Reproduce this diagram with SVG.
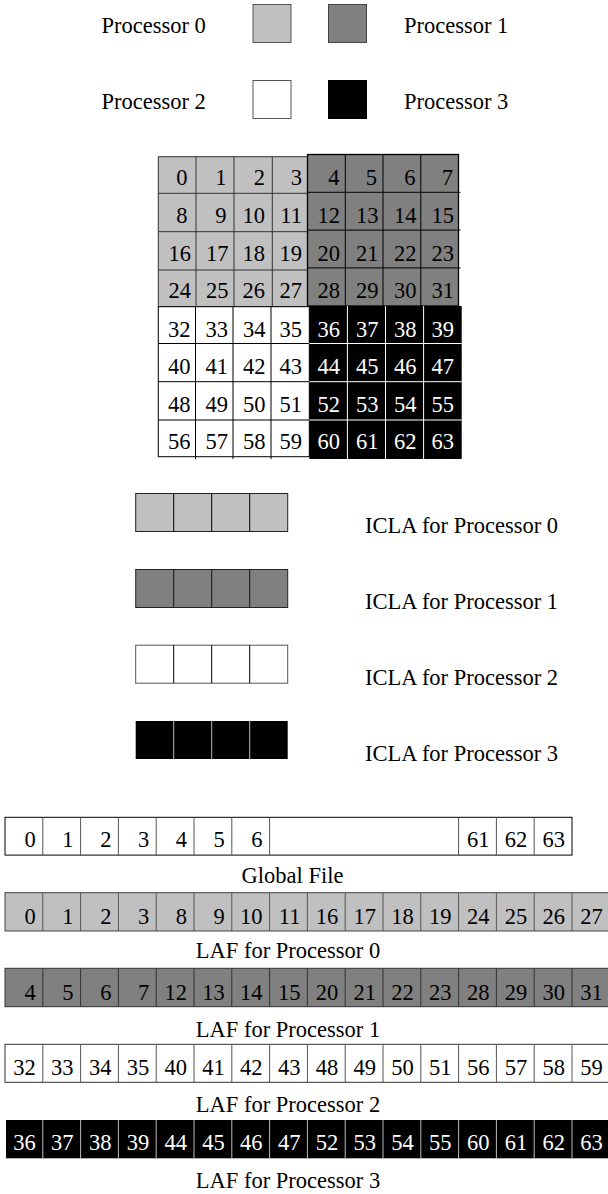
<svg xmlns="http://www.w3.org/2000/svg" width="608" height="1194" viewBox="0 0 608 1194" font-family="'Liberation Serif', 'Tinos', 'Nimbus Roman', 'DejaVu Serif', serif">
<style>
text{font-family:"Liberation Serif","Tinos","Nimbus Roman","Nimbus Roman No9 L","DejaVu Serif",serif;font-size:22.5px;fill:#000}
.n text{text-anchor:end}
.w text,text.w{fill:#fff}
.lg{fill:#c0c0c0}
.dg{fill:#808080}
.wh{fill:#fff}
.bk{fill:#000}
.ln{stroke:#333;stroke-width:1}
.lnw{stroke:#fff;stroke-width:1}
.lng{stroke:#555;stroke-width:1}
.lnl{stroke:#bbb;stroke-width:1}
.n text.c{text-anchor:middle}
</style>
<rect width="608" height="1194" fill="#fff"/>
<g id="legend">
<g id="legend-p0"><text x="101.5" y="33.3">Processor 0</text><rect x="253" y="4.5" width="38" height="38" class="lg" stroke="#555"/></g>
<g id="legend-p1"><rect x="328.5" y="4.5" width="38" height="38" class="dg" stroke="#444"/><text x="404" y="33.3">Processor 1</text></g>
<g id="legend-p2"><text x="101.5" y="109.3">Processor 2</text><rect x="253" y="80.5" width="38" height="38" class="wh" stroke="#555"/></g>
<g id="legend-p3"><rect x="328.5" y="80.5" width="38" height="38" class="bk" stroke="#000"/><text x="404" y="109.3">Processor 3</text></g>
</g>
<g id="grid">
<g id="grid-p0" class="n">
<rect x="158.3" y="156.7" width="151" height="150" class="lg" stroke="#333"/>
<path class="ln" d="M196 156.7V306.7M234 156.7V306.7M272.3 156.7V306.7M158.3 193.3H309M158.3 231.7H309M158.3 270H309"/>
<text x="187.5" y="185">0</text><text x="226.5" y="185">1</text><text x="265" y="185">2</text><text x="302" y="185">3</text>
<text x="187.5" y="222.7">8</text><text x="226.5" y="222.7">9</text><text x="265" y="222.7">10</text><text x="302" y="222.7">11</text>
<text x="191" y="261">16</text><text x="228.5" y="261">17</text><text x="265" y="261">18</text><text x="302" y="261">19</text>
<text x="191" y="298.3">24</text><text x="228.5" y="298.3">25</text><text x="265" y="298.3">26</text><text x="302" y="298.3">27</text>
</g>
<g id="grid-p1" class="n">
<rect x="307.5" y="154.5" width="151" height="151.5" class="dg" stroke="#000" stroke-width="1.3"/>
<path stroke="#000" stroke-width="1" d="M345.3 154.5V306M383 154.5V306M420.8 154.5V306M307.5 192.3H460.5M307.5 230.1H460.5M307.5 267.9H460.5"/>
<text x="339.5" y="185">4</text><text x="377" y="185">5</text><text x="415.5" y="185">6</text><text x="453" y="185">7</text>
<text x="340" y="222.7">12</text><text x="378.5" y="222.7">13</text><text x="416.5" y="222.7">14</text><text x="454" y="222.7">15</text>
<text x="340" y="261">20</text><text x="378.5" y="261">21</text><text x="416.5" y="261">22</text><text x="454" y="261">23</text>
<text x="340" y="298.3">28</text><text x="378.5" y="298.3">29</text><text x="416.5" y="298.3">30</text><text x="454" y="298.3">31</text>
</g>
<g id="grid-p2" class="n">
<rect x="158.3" y="306.7" width="151" height="150" class="wh" stroke="#000"/>
<path stroke="#000" stroke-width="1" d="M195.5 306.7V459M233 306.7V459M271 306.7V459M158.3 343.5H309.3M158.3 381.7H309.3M158.3 420H309.3"/>
<text x="190.5" y="336.7">32</text><text x="228" y="336.7">33</text><text x="265.5" y="336.7">34</text><text x="302" y="336.7">35</text>
<text x="190.5" y="374">40</text><text x="228" y="374">41</text><text x="265.5" y="374">42</text><text x="302" y="374">43</text>
<text x="190.5" y="411.7">48</text><text x="228" y="411.7">49</text><text x="265.5" y="411.7">50</text><text x="302" y="411.7">51</text>
<text x="190.5" y="449.3">56</text><text x="228" y="449.3">57</text><text x="265.5" y="449.3">58</text><text x="302" y="449.3">59</text>
</g>
<g id="grid-p3" class="n w">
<rect x="309.3" y="306" width="152.4" height="153" class="bk"/>
<path class="lnw" d="M347.4 306V459M385.5 306V459M423.6 306V459M309.3 343.5H461.7M309.3 381.7H461.7M309.3 420H461.7"/>
<text x="340" y="336.7">36</text><text x="378.5" y="336.7">37</text><text x="416.5" y="336.7">38</text><text x="454" y="336.7">39</text>
<text x="340" y="374">44</text><text x="378.5" y="374">45</text><text x="416.5" y="374">46</text><text x="454" y="374">47</text>
<text x="340" y="411.7">52</text><text x="378.5" y="411.7">53</text><text x="416.5" y="411.7">54</text><text x="454" y="411.7">55</text>
<text x="340" y="449.3">60</text><text x="378.5" y="449.3">61</text><text x="416.5" y="449.3">62</text><text x="454" y="449.3">63</text>
</g>
</g>
<g id="icla">
<g id="icla-p0"><rect x="135.7" y="493.5" width="152" height="38" class="lg" stroke="#222"/><path stroke="#000" d="M173.7 493.5V531.5M211.7 493.5V531.5M249.7 493.5V531.5"/><text x="365" y="533.3">ICLA for Processor 0</text></g>
<g id="icla-p1"><rect x="135.7" y="569.5" width="152" height="38" class="dg" stroke="#222"/><path stroke="#111" d="M173.7 569.5V607.5M211.7 569.5V607.5M249.7 569.5V607.5"/><text x="365" y="609">ICLA for Processor 1</text></g>
<g id="icla-p2"><rect x="135.7" y="645.2" width="152" height="38" class="wh" stroke="#555"/><path stroke="#000" d="M173.7 645.2V683.2M211.7 645.2V683.2M249.7 645.2V683.2"/><text x="365" y="685">ICLA for Processor 2</text></g>
<g id="icla-p3"><rect x="135.7" y="721" width="152" height="38" class="bk"/><path class="lnl" d="M173.7 721V759M211.7 721V759M249.7 721V759"/><text x="365" y="760.7">ICLA for Processor 3</text></g>
</g>
<g id="global-file" class="n">
<rect x="5" y="817.3" width="567" height="37.8" class="wh" stroke="#000"/>
<path class="lng" d="M42.8 817.3V855.1M80.6 817.3V855.1M118.4 817.3V855.1M156.2 817.3V855.1M194 817.3V855.1M231.8 817.3V855.1M269.6 817.3V855.1M458.6 817.3V855.1M496.4 817.3V855.1M534.2 817.3V855.1"/>
<text x="35.8" y="847">0</text><text x="73.6" y="847">1</text><text x="111.4" y="847">2</text><text x="149.2" y="847">3</text><text x="187" y="847">4</text><text x="224.8" y="847">5</text><text x="262.6" y="847">6</text>
<text x="489.4" y="847">61</text><text x="527.2" y="847">62</text><text x="565" y="847">63</text>
<text class="c" x="292.5" y="883.3">Global File</text>
</g>
<g id="laf-p0" class="n">
<rect x="5" y="892.7" width="610" height="38.3" class="lg" stroke="#444"/>
<path class="lng" d="M42.8 892.7V931M80.6 892.7V931M118.4 892.7V931M156.2 892.7V931M194 892.7V931M231.8 892.7V931M269.6 892.7V931M307.4 892.7V931M345.2 892.7V931M383 892.7V931M420.8 892.7V931M458.6 892.7V931M496.4 892.7V931M534.2 892.7V931M572 892.7V931"/>
<text x="35.8" y="924">0</text><text x="73.6" y="924">1</text><text x="111.4" y="924">2</text><text x="149.2" y="924">3</text><text x="187" y="924">8</text><text x="224.8" y="924">9</text><text x="262.6" y="924">10</text><text x="300.4" y="924">11</text><text x="338.2" y="924">16</text><text x="376" y="924">17</text><text x="413.8" y="924">18</text><text x="451.6" y="924">19</text><text x="489.4" y="924">24</text><text x="527.2" y="924">25</text><text x="565" y="924">26</text><text x="602.8" y="924">27</text>
<text class="c" x="288" y="958.3">LAF for Processor 0</text>
</g>
<g id="laf-p1" class="n">
<rect x="5" y="968.3" width="610" height="38.4" class="dg" stroke="#333"/>
<path class="ln" d="M42.8 968.3V1006.7M80.6 968.3V1006.7M118.4 968.3V1006.7M156.2 968.3V1006.7M194 968.3V1006.7M231.8 968.3V1006.7M269.6 968.3V1006.7M307.4 968.3V1006.7M345.2 968.3V1006.7M383 968.3V1006.7M420.8 968.3V1006.7M458.6 968.3V1006.7M496.4 968.3V1006.7M534.2 968.3V1006.7M572 968.3V1006.7"/>
<text x="35.8" y="999.5">4</text><text x="73.6" y="999.5">5</text><text x="111.4" y="999.5">6</text><text x="149.2" y="999.5">7</text><text x="187" y="999.5">12</text><text x="224.8" y="999.5">13</text><text x="262.6" y="999.5">14</text><text x="300.4" y="999.5">15</text><text x="338.2" y="999.5">20</text><text x="376" y="999.5">21</text><text x="413.8" y="999.5">22</text><text x="451.6" y="999.5">23</text><text x="489.4" y="999.5">28</text><text x="527.2" y="999.5">29</text><text x="565" y="999.5">30</text><text x="602.8" y="999.5">31</text>
<text class="c" x="288" y="1036.7">LAF for Processor 1</text>
</g>
<g id="laf-p2" class="n">
<rect x="5" y="1044.3" width="610" height="38" class="wh" stroke="#333"/>
<path class="lng" d="M42.8 1044.3V1082.3M80.6 1044.3V1082.3M118.4 1044.3V1082.3M156.2 1044.3V1082.3M194 1044.3V1082.3M231.8 1044.3V1082.3M269.6 1044.3V1082.3M307.4 1044.3V1082.3M345.2 1044.3V1082.3M383 1044.3V1082.3M420.8 1044.3V1082.3M458.6 1044.3V1082.3M496.4 1044.3V1082.3M534.2 1044.3V1082.3M572 1044.3V1082.3"/>
<text x="35.8" y="1074.5">32</text><text x="73.6" y="1074.5">33</text><text x="111.4" y="1074.5">34</text><text x="149.2" y="1074.5">35</text><text x="187" y="1074.5">40</text><text x="224.8" y="1074.5">41</text><text x="262.6" y="1074.5">42</text><text x="300.4" y="1074.5">43</text><text x="338.2" y="1074.5">48</text><text x="376" y="1074.5">49</text><text x="413.8" y="1074.5">50</text><text x="451.6" y="1074.5">51</text><text x="489.4" y="1074.5">56</text><text x="527.2" y="1074.5">57</text><text x="565" y="1074.5">58</text><text x="602.8" y="1074.5">59</text>
<text class="c" x="288" y="1112.3">LAF for Processor 2</text>
</g>
<g id="laf-p3" class="n">
<rect x="6" y="1120" width="610" height="38.3" class="bk"/>
<path class="lnl" d="M42.8 1120V1158.3M80.6 1120V1158.3M118.4 1120V1158.3M156.2 1120V1158.3M194 1120V1158.3M231.8 1120V1158.3M269.6 1120V1158.3M307.4 1120V1158.3M345.2 1120V1158.3M383 1120V1158.3M420.8 1120V1158.3M458.6 1120V1158.3M496.4 1120V1158.3M534.2 1120V1158.3M572 1120V1158.3"/>
<g class="w"><text x="35.8" y="1150">36</text><text x="73.6" y="1150">37</text><text x="111.4" y="1150">38</text><text x="149.2" y="1150">39</text><text x="187" y="1150">44</text><text x="224.8" y="1150">45</text><text x="262.6" y="1150">46</text><text x="300.4" y="1150">47</text><text x="338.2" y="1150">52</text><text x="376" y="1150">53</text><text x="413.8" y="1150">54</text><text x="451.6" y="1150">55</text><text x="489.4" y="1150">60</text><text x="527.2" y="1150">61</text><text x="565" y="1150">62</text><text x="602.8" y="1150">63</text></g>
<text class="c" x="288" y="1188.3">LAF for Processor 3</text>
</g>
</svg>
